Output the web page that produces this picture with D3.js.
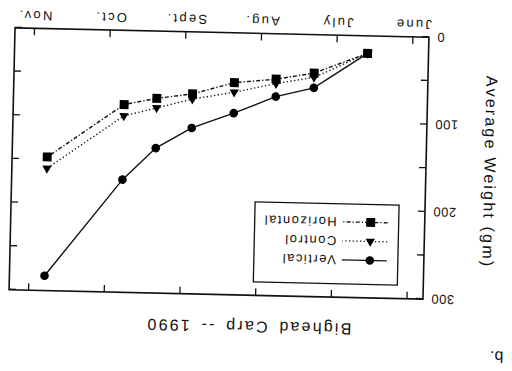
<!DOCTYPE html>
<html>
<head>
<meta charset="utf-8">
<script src="https://cdn.jsdelivr.net/npm/d3@7"></script>
<style>
  body { margin: 0; background: #fff; }
  svg { display: block; font-family: "Liberation Sans", Arial, sans-serif; }
</style>
</head>
<body>
<script>
// sample dates as month offsets from June 1 (June = 0)
const sampleMonth = [0.60, 1.30, 1.80, 2.35, 2.90, 3.37, 3.80, 4.80];
const horizontal = [20, 44, 52, 57, 71, 77, 85, 147];
const control    = [20, 49, 57, 68, 77, 88, 98, 160];
const vertical   = [20, 61, 72, 92, 110, 134, 171, 283];
const monthLabels = ["June", "July", "Aug.", "Sept.", "Oct.", "Nov."];
const weightTicks = [0, 50, 100, 150, 200, 250, 300];

const W = 512, H = 371;
const frame = {left: 12, right: 426, top: 32.5, bottom: 294.5};

const svg = d3.select("body").append("svg")
  .attr("width", W)
  .attr("height", H);

// the scanned page is upside down and a little tilted
const g = svg.append("g")
  .attr("transform", "rotate(181.3,219,163.5)");

const x = d3.scaleLinear().domain([-0.205, 5.264]).range([frame.left, frame.right]);
const y = d3.scaleLinear().domain([0, 300]).range([frame.bottom, frame.top]);

// axes, ticks point inward on all four sides
const xb = g.append("g")
  .attr("transform", `translate(0,${frame.bottom})`)
  .call(d3.axisBottom(x).tickValues(d3.range(6)).tickFormat(i => monthLabels[i])
    .tickSizeInner(-7).tickSizeOuter(0).tickPadding(8));
xb.selectAll("text").style("font-size", "13px").style("letter-spacing", "2.3px");

g.append("g")
  .attr("transform", `translate(0,${frame.top})`)
  .call(d3.axisTop(x).tickValues(d3.range(6)).tickFormat("").tickSizeInner(-7).tickSizeOuter(0));

const yl = g.append("g")
  .attr("transform", `translate(${frame.left},0)`)
  .call(d3.axisLeft(y).tickValues(weightTicks).tickFormat(d => d % 100 === 0 ? d : "")
    .tickSizeInner(-7).tickSizeOuter(0).tickPadding(8));
yl.selectAll("text").style("font-size", "13px").style("letter-spacing", "0.5px");

g.append("g")
  .attr("transform", `translate(${frame.right},0)`)
  .call(d3.axisRight(y).tickValues(weightTicks).tickFormat("").tickSizeInner(-7).tickSizeOuter(0));

g.selectAll(".domain").remove();
g.selectAll(".tick line").attr("stroke", "#111").attr("stroke-width", 1.3);
g.selectAll(".tick text").attr("fill", "#111").style("font-family", "'Liberation Sans', Arial, sans-serif");

g.append("rect")
  .attr("x", frame.left).attr("y", frame.top)
  .attr("width", frame.right - frame.left)
  .attr("height", frame.bottom - frame.top)
  .attr("fill", "none")
  .attr("stroke", "#111")
  .attr("stroke-width", 1.6);

const series = [
  {name: "Vertical", values: vertical, dash: null, symbol: d3.symbolCircle, size: 58},
  {name: "Control", values: control, dash: "1.3,2.4", symbol: d3.symbolTriangle, size: 38},
  {name: "Horizontal", values: horizontal, dash: "4,2,1.3,2", symbol: d3.symbolSquare, size: 80}
];

const line = d3.line()
  .x((d, i) => x(sampleMonth[i]))
  .y(d => y(d));

series.forEach(s => {
  g.append("path")
    .datum(s.values)
    .attr("d", line)
    .attr("fill", "none")
    .attr("stroke", "#111")
    .attr("stroke-width", 1.4)
    .attr("stroke-dasharray", s.dash);

  g.selectAll(null)
    .data(s.values)
    .enter()
    .append("path")
    .attr("d", d3.symbol().type(s.symbol).size(s.size))
    .attr("transform", (d, i) => `translate(${x(sampleMonth[i])},${y(d)})`)
    .attr("fill", "#000");
});

// legend
const legend = g.append("g");
legend.append("rect")
  .attr("x", 38).attr("y", 46)
  .attr("width", 144).attr("height", 80)
  .attr("fill", "#fff")
  .attr("stroke", "#111")
  .attr("stroke-width", 1.3);

const rowY = [70, 89, 108];
series.forEach((s, i) => {
  legend.append("line")
    .attr("x1", 49).attr("x2", 94)
    .attr("y1", rowY[i]).attr("y2", rowY[i])
    .attr("stroke", "#111")
    .attr("stroke-width", 1.3)
    .attr("stroke-dasharray", s.dash);
  legend.append("path")
    .attr("d", d3.symbol().type(s.symbol).size(s.size))
    .attr("transform", `translate(66,${rowY[i]})`)
    .attr("fill", "#000");
  legend.append("text")
    .attr("x", 100).attr("y", rowY[i] + 4.5)
    .attr("fill", "#111")
    .style("font-size", "13px")
    .style("letter-spacing", "1.5px")
    .text(s.name);
});

// titles
g.append("text")
  .attr("x", 186).attr("y", 6.5)
  .attr("text-anchor", "middle")
  .attr("fill", "#111")
  .style("font-size", "16px")
  .style("letter-spacing", "2.2px")
  .style("word-spacing", "3px")
  .text("Bighead Carp -- 1990");

g.append("text")
  .attr("transform", "translate(-46.5,161) rotate(-90)")
  .attr("text-anchor", "middle")
  .attr("fill", "#111")
  .style("font-size", "16px")
  .style("letter-spacing", "2.2px")
  .text("Average Weight (gm)");

g.append("text")
  .attr("x", -63).attr("y", -18)
  .attr("text-anchor", "middle")
  .attr("fill", "#111")
  .style("font-size", "16px")
  .text("b.");
</script>
</body>
</html>
